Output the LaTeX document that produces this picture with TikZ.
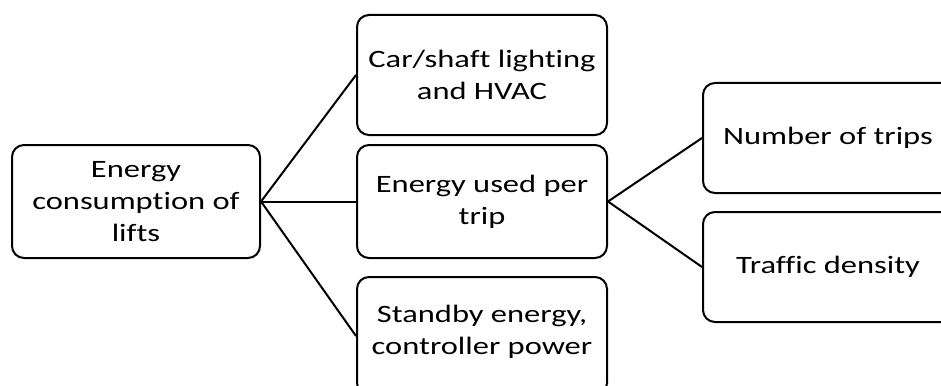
\documentclass[tikz,border=0pt]{standalone}
\usepackage{fontspec}
\setmainfont{Carlito}[FakeStretch=1.3, Ligatures={NoCommon}]
\begin{document}
\begin{tikzpicture}[x=1pt,y=-1pt,
	box/.style={draw, fill=white, rounded corners=12pt, line width=2pt, align=center, inner sep=0pt, font=\fontsize{25}{32}\selectfont},
	link/.style={line width=2pt}]
		\useasboundingbox (0,0) rectangle (941,385);
		\clip (0,0) rectangle (941,385);

		\node[box, minimum width=248pt, minimum height=113pt] (lifts) at (136,201.5) {Energy\\consumption of\\lifts};

		\node[box, minimum width=250pt, minimum height=120pt] (hvac) at (482,75) {Car/shaft lighting\\and HVAC};
		\node[box, minimum width=250pt, minimum height=113pt] (pertrip) at (482,201.5) {Energy used per\\trip};
		\node[box, minimum width=250pt, minimum height=118pt, text depth=12pt] (standby) at (482,336) {Standby energy,\\controller power};

		\node[box, minimum width=250pt, minimum height=110pt] (trips) at (828,138) {Number of trips};
		\node[box, minimum width=250pt, minimum height=110pt] (density) at (828,267) {Traffic density};

		\draw[link] (lifts.east) -- (hvac.west);
		\draw[link] (lifts.east) -- (pertrip.west);
		\draw[link] (lifts.east) -- (standby.west);
		\draw[link] (pertrip.east) -- (trips.west);
		\draw[link] (pertrip.east) -- (density.west);

	\end{tikzpicture}
\end{document}
